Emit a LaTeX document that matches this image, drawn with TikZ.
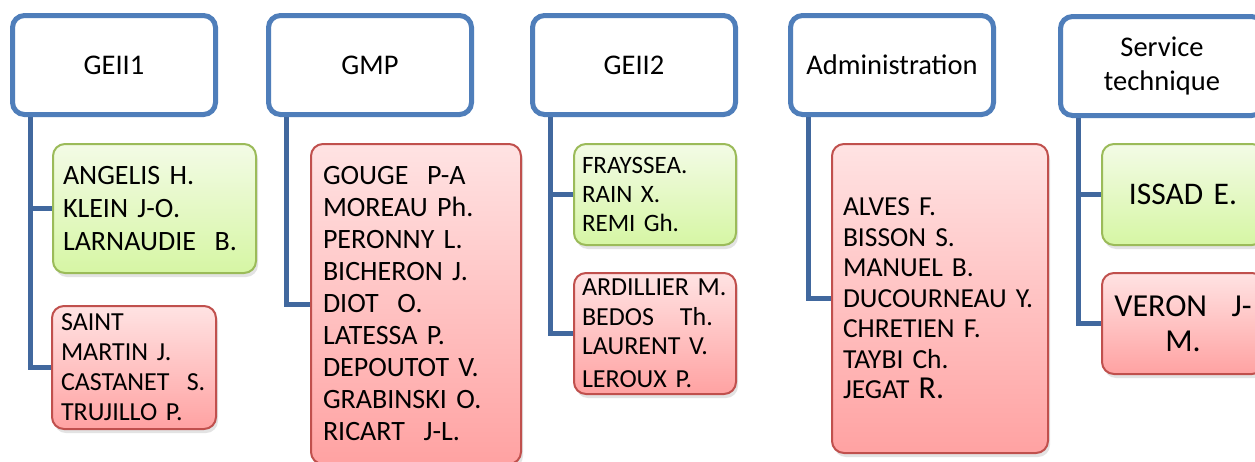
\documentclass[tikz,border=0pt]{standalone}
\usepackage{fontspec}
\setmainfont{Carlito}
\usetikzlibrary{shadows,backgrounds}
\definecolor{hdrblue}{HTML}{4F7EBA}
\definecolor{conblue}{HTML}{41689E}
\definecolor{gtop}{HTML}{F3FBE6}
\definecolor{gbot}{HTML}{D6F6A4}
\definecolor{gline}{HTML}{9BBB59}
\definecolor{rtop}{HTML}{FFE3E3}
\definecolor{rbot}{HTML}{FFA2A2}
\definecolor{rline}{HTML}{C0504D}
\begin{document}
\begin{tikzpicture}[x=1pt,y=-1pt,
  hdr/.style={draw=hdrblue, line width=5pt, rounded corners=12pt, fill=white,
    minimum width=203pt, minimum height=99pt, inner sep=0pt, align=center,
    font=\fontsize{28.5}{34}\selectfont},
  member/.style={line width=2pt, rounded corners=12pt, inner xsep=10pt, inner ysep=0pt,
    drop shadow={shadow xshift=2pt, shadow yshift=-4pt, opacity=0.22}},
  gbox/.style={member, draw=gline, top color=gtop, bottom color=gbot},
  rbox/.style={member, draw=rline, top color=rtop, bottom color=rbot},
  conn/.style={draw=conblue, line width=5pt},
]
\useasboundingbox (0,0) rectangle (1255,461);
\clip (0,0) rectangle (1255,461);

% headers
\node[hdr] (h1) at (114,65) {GEII1};
\node[hdr] (h2) at (370,65) {GMP};
\node[hdr] (h3) at (634,65) {GEII2};
\node[hdr] (h4) at (892,65) {Administration};
\node[hdr] (h5) at (1162,66) {Service\\technique};

% GEII1
\node[gbox, minimum width=203pt, minimum height=129pt, text width=183pt, align=left,
  font=\fontsize{28}{33}\selectfont] (g1) at (154.5,208.5)
  {ANGELIS H.\\KLEIN J-O.\\LARNAUDIE\ \ B.};
\node[rbox, minimum width=164pt, minimum height=123pt, text width=146pt, align=left,
  font=\fontsize{26}{30}\selectfont, inner xsep=9pt] (r1) at (134,367.5)
  {SAINT\\MARTIN J.\\CASTANET\ \ S.\\TRUJILLO P.};

% GMP
\node[rbox, minimum width=210pt, minimum height=320pt, text width=186pt, align=left,
  inner xsep=12pt, font=\fontsize{28}{32}\selectfont] (r2) at (416,304)
  {GOUGE\ \ P-A\\MOREAU Ph.\\PERONNY L.\\BICHERON J.\\DIOT\ \ O.\\LATESSA P.\\DEPOUTOT V.\\GRABINSKI O.\\RICART\ \ J-L.};

% GEII2
\node[gbox, minimum width=162pt, minimum height=101pt, text width=146pt, align=left,
  inner xsep=8pt, font=\fontsize{25}{29}\selectfont] (g3) at (655,194.5)
  {FRAYSSEA.\\RAIN X.\\REMI Gh.};
\node[rbox, minimum width=162pt, minimum height=121pt, text width=146pt, align=left,
  inner xsep=8pt, font=\fontsize{26}{29.5}\selectfont] (r3) at (655,333.5)
  {ARDILLIER M.\\BEDOS\ \ \ Th.\\LAURENT V.\\[3pt]LEROUX P.};

% Administration
\node[rbox, minimum width=216pt, minimum height=309pt, text width=194pt, align=left,
  inner xsep=11pt, font=\fontsize{27.5}{30.5}\selectfont] (r4) at (940,298.5)
  {ALVES F.\\BISSON S.\\MANUEL B.\\DUCOURNEAU Y.\\CHRETIEN F.\\TAYBI Ch.\\JEGAT {\fontsize{32}{30.5}\selectfont R.}};

% Service technique
\node[gbox, minimum width=162pt, minimum height=101pt, text width=146pt, align=center,
  inner xsep=8pt, font=\fontsize{31.5}{35}\selectfont] (g5) at (1183,194.5)
  {ISSAD E.};
\node[rbox, minimum width=162pt, minimum height=101pt, text width=146pt, align=center,
  inner xsep=8pt, font=\fontsize{32}{35}\selectfont] (r5) at (1183,323.5)
  {VERON\ \hspace{0.1em} J-\\M.};

% connectors
\begin{scope}[on background layer]
  \fill[white] (0,0) rectangle (1255,461);
  \draw[conn] ([xshift=20pt]h1.south west) |- (g1.west);
  \draw[conn] ([xshift=20pt]h1.south west) |- (r1.west);
  \draw[conn] ([xshift=20pt]h2.south west) |- (r2.west);
  \draw[conn] ([xshift=20pt]h3.south west) |- (g3.west);
  \draw[conn] ([xshift=20pt]h3.south west) |- (r3.west);
  \draw[conn] ([xshift=20pt]h4.south west) |- (r4.west);
  \draw[conn] ([xshift=20pt]h5.south west) |- (g5.west);
  \draw[conn] ([xshift=20pt]h5.south west) |- (r5.west);
\end{scope}
\end{tikzpicture}
\end{document}
